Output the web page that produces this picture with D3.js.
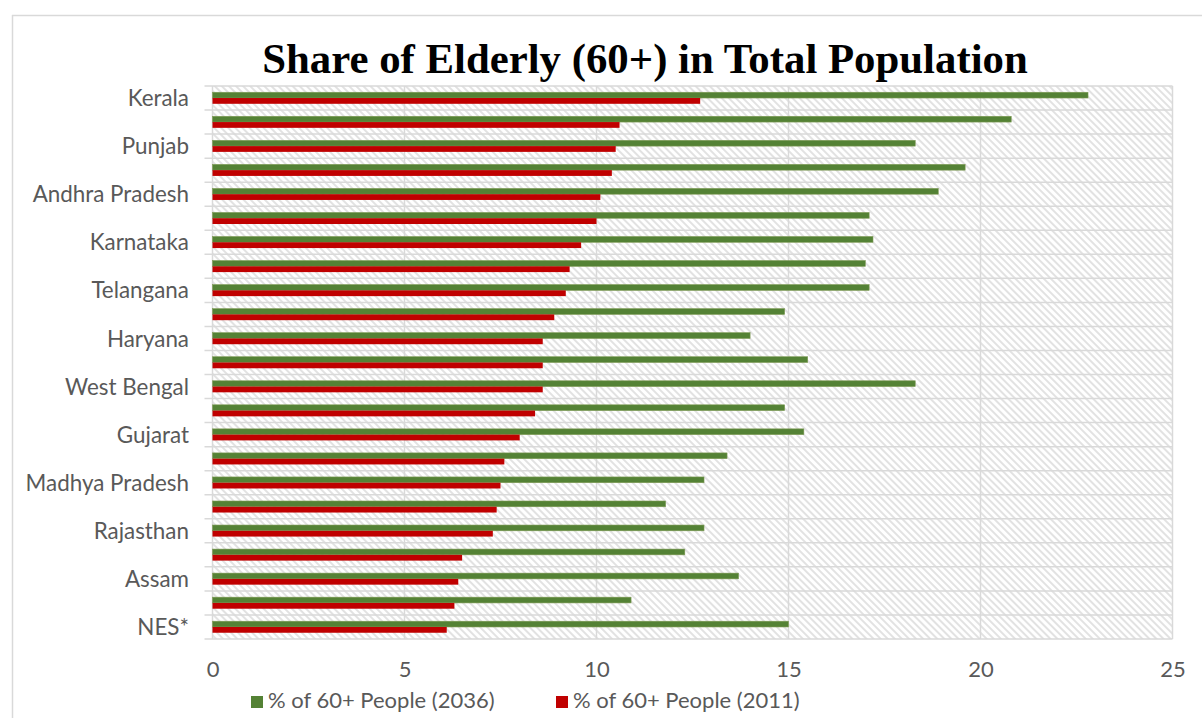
<!DOCTYPE html>
<html>
<head>
<meta charset="utf-8">
<script src="https://cdn.jsdelivr.net/npm/d3@7/dist/d3.min.js"></script>
<style>
  html, body { margin: 0; padding: 0; background: #fff; }
  svg { display: block; }
</style>
</head>
<body>
<svg id="chart" width="1202" height="718"></svg>
<script>
const categories = ["Kerala", "Tamil Nadu", "Punjab", "Himachal Pradesh", "Andhra Pradesh", "Maharashtra",
  "Karnataka", "Odisha", "Telangana", "Uttarakhand", "Haryana", "Jammu & Kashmir", "West Bengal",
  "Chhattisgarh", "Gujarat", "Uttar Pradesh", "Madhya Pradesh", "Jharkhand", "Rajasthan", "Delhi",
  "Assam", "Bihar", "NES*"];
const values2036 = [22.8, 20.8, 18.3, 19.6, 18.9, 17.1, 17.2, 17.0, 17.1, 14.9, 14.0, 15.5, 18.3,
  14.9, 15.4, 13.4, 12.8, 11.8, 12.8, 12.3, 13.7, 10.9, 15.0];
const values2011 = [12.7, 10.6, 10.5, 10.4, 10.1, 10.0, 9.6, 9.3, 9.2, 8.9, 8.6, 8.6, 8.6,
  8.4, 8.0, 7.6, 7.5, 7.4, 7.3, 6.5, 6.4, 6.3, 6.1];
const seriesNames = ["% of 60+ People (2036)", "% of 60+ People (2011)"];
const xTicks = [0, 5, 10, 15, 20, 25];
const title = "Share of Elderly (60+) in Total Population";

const svg = d3.select("#chart");
const plot = { left: 212.5, right: 1172.5, top: 86, bottom: 639 };
const grid = "#d9d9d9";
const textColor = "#595959";
const labelFont = "Lato, 'Open Sans', sans-serif";
const colors = ["#548235", "#c00000"];

// chart area border (top & left visible)
svg.append("line").attr("x1", 12).attr("x2", 1202).attr("y1", 15.5).attr("y2", 15.5)
  .attr("stroke", grid).attr("stroke-width", 1.5);
svg.append("line").attr("x1", 12.5).attr("x2", 12.5).attr("y1", 15).attr("y2", 718)
  .attr("stroke", grid).attr("stroke-width", 1.5);

// hatch pattern
const defs = svg.append("defs");
const pat = defs.append("pattern").attr("id", "hatch")
  .attr("patternUnits", "userSpaceOnUse").attr("width", 5).attr("height", 5)
  .attr("patternTransform", "rotate(-45)");
pat.append("rect").attr("width", 5).attr("height", 5).attr("fill", "#fff");
pat.append("rect").attr("x", 0).attr("y", 0).attr("width", 2).attr("height", 5).attr("fill", "#e2e2e2");

const x = d3.scaleLinear().domain([0, 25]).range([plot.left, plot.right]);
const y = d3.scaleBand().domain(categories).range([plot.top, plot.bottom])
  .paddingInner(0.52).paddingOuter(0.26);
const ySub = d3.scaleBand().domain([0, 1]).range([0, y.bandwidth()]);

svg.append("rect").attr("x", plot.left).attr("y", plot.top)
  .attr("width", plot.right - plot.left).attr("height", plot.bottom - plot.top)
  .attr("fill", "url(#hatch)");

// vertical gridlines
svg.append("g").selectAll("line").data(xTicks).join("line")
  .attr("x1", d => x(d)).attr("x2", d => x(d))
  .attr("y1", plot.top).attr("y2", plot.bottom)
  .attr("stroke", grid).attr("stroke-width", 1.5);

// horizontal category boundary lines (with tick marks extending left)
const step = y.step();
const boundaries = d3.range(categories.length + 1);
svg.append("g").selectAll("line").data(boundaries).join("line")
  .attr("x1", plot.left - 8).attr("x2", plot.right)
  .attr("y1", d => plot.top + d * step).attr("y2", d => plot.top + d * step)
  .attr("stroke", grid).attr("stroke-width", 1.5);

// bars
const seriesData = [values2036, values2011];
seriesData.forEach((vals, si) => {
  svg.append("g").selectAll("rect").data(categories).join("rect")
    .attr("x", x(0))
    .attr("y", d => y(d) + ySub(si))
    .attr("width", (d, i) => x(vals[i]) - x(0))
    .attr("height", ySub.bandwidth())
    .attr("fill", colors[si])
    .attr("stroke", si === 0 ? "#7f9a55" : "none")
    .attr("stroke-width", 0.6);
});

// y axis labels (every other category shown)
svg.append("g").selectAll("text").data(categories.filter((d, i) => i % 2 === 0)).join("text")
  .attr("x", 189).attr("y", d => y(d) + y.bandwidth() / 2)
  .attr("dy", "0.36em").attr("text-anchor", "end")
  .attr("font-family", labelFont).attr("font-size", 22.4).attr("fill", textColor)
  .text(d => d);

// x axis
const xAxis = d3.axisBottom(x).tickValues(xTicks).tickSize(0).tickFormat(d3.format("d"));
const gx = svg.append("g").attr("transform", `translate(0,${plot.bottom})`).call(xAxis);
gx.select(".domain").remove();
gx.selectAll("text").attr("y", 38).attr("dy", 0)
  .attr("font-family", labelFont).attr("font-size", 22).attr("fill", textColor);

// title
svg.append("text").attr("x", 645).attr("y", 73).attr("text-anchor", "middle")
  .attr("font-family", "'Liberation Serif', 'Times New Roman', serif").attr("font-weight", "bold")
  .attr("font-size", 42.8).attr("fill", "#000").text(title);

// legend
const legendX = [251, 556];
const lg = svg.append("g").selectAll("g").data(seriesNames).join("g")
  .attr("transform", (d, i) => `translate(${legendX[i]},0)`);
lg.append("rect").attr("x", 0).attr("y", 696).attr("width", 12).attr("height", 12)
  .attr("fill", (d, i) => colors[i]);
lg.append("text").attr("x", 17).attr("y", 708)
  .attr("font-family", labelFont).attr("font-size", 22).attr("fill", textColor)
  .text(d => d);
</script>
</body>
</html>
